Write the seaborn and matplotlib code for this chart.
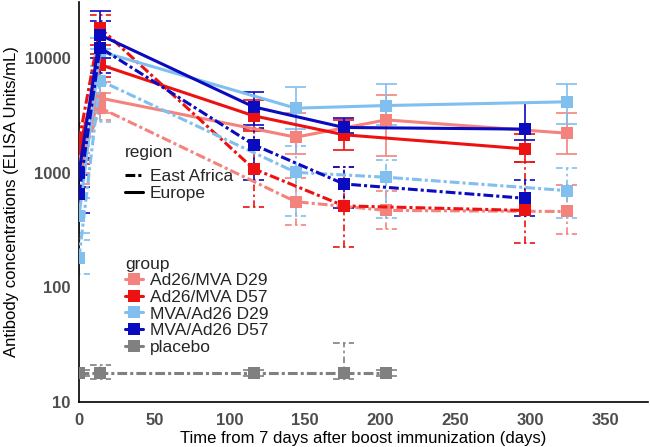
import numpy as np
import pandas as pd
import matplotlib
matplotlib.use("Agg")
import matplotlib.pyplot as plt
import seaborn as sns
from matplotlib.lines import Line2D
from matplotlib.ticker import FixedLocator, NullLocator


# ==============================
# Data (geometric means with 95% CI)
# ==============================

groups = ["Ad26/MVA D29", "Ad26/MVA D57", "MVA/Ad26 D29", "MVA/Ad26 D57", "placebo"]
regions = ["East Africa", "Europe"]
colors = ["#F4837D", "#EE1111", "#80BFEE", "#0A0ABF", "#808080"]

days_d29 = [0, 14, 144, 204, 324]
days_d57 = [0, 14, 116, 176, 296]
days_placebo = [0, 14, 116, 176, 204]

# Ad26/MVA D29
ad_d29_eu = [1300, 4500, 2050, 2900, 2220]
ad_d29_eu_lo = [1000, 3300, 1450, 1400, 1450]
ad_d29_eu_hi = [1700, 6200, 3300, 4800, 3300]
ad_d29_ea = [1100, 3700, 560, 470, 460]
ad_d29_ea_lo = [800, 2900, 350, 325, 290]
ad_d29_ea_hi = [1500, 5000, 900, 700, 780]

# Ad26/MVA D57
ad_d57_eu = [1600, 8800, 3150, 2150, 1620]
ad_d57_eu_lo = [1200, 6800, 2300, 1580, 1250]
ad_d57_eu_hi = [2100, 11000, 4300, 2900, 2200]
ad_d57_ea = [1900, 18400, 1085, 515, 470]
ad_d57_ea_lo = [1300, 13000, 500, 227, 245]
ad_d57_ea_hi = [2700, 24000, 2400, 1130, 1250]

# MVA/Ad26 D29
mva_d29_eu = [420, 11500, 3670, 3870, 4170]
mva_d29_eu_lo = [300, 8500, 2400, 2600, 2650]
mva_d29_eu_hi = [600, 15000, 5600, 6000, 6000]
mva_d29_ea = [180, 6400, 1010, 916, 700]
mva_d29_ea_lo = [130, 2800, 420, 400, 400]
mva_d29_ea_hi = [260, 12000, 1700, 1300, 1110]

# MVA/Ad26 D57
mva_d57_eu = [1000, 16000, 3770, 2490, 2410]
mva_d57_eu_lo = [750, 10000, 2600, 2250, 1950]
mva_d57_eu_hi = [1350, 26000, 5100, 3000, 4100]
mva_d57_ea = [650, 12400, 1760, 800, 600]
mva_d57_ea_lo = [450, 7500, 870, 490, 420]
mva_d57_ea_hi = [950, 21000, 2450, 1130, 860]

# placebo
placebo_ea = [18, 18, 18, 18, 18]
placebo_ea_lo = [17, 16, 17, 16, 17]
placebo_ea_hi = [19, 21, 19, 33, 19]

series = [
    ("Ad26/MVA D29", "Europe", days_d29, ad_d29_eu, ad_d29_eu_lo, ad_d29_eu_hi),
    ("Ad26/MVA D29", "East Africa", days_d29, ad_d29_ea, ad_d29_ea_lo, ad_d29_ea_hi),
    ("Ad26/MVA D57", "Europe", days_d57, ad_d57_eu, ad_d57_eu_lo, ad_d57_eu_hi),
    ("Ad26/MVA D57", "East Africa", days_d57, ad_d57_ea, ad_d57_ea_lo, ad_d57_ea_hi),
    ("MVA/Ad26 D29", "Europe", days_d29, mva_d29_eu, mva_d29_eu_lo, mva_d29_eu_hi),
    ("MVA/Ad26 D29", "East Africa", days_d29, mva_d29_ea, mva_d29_ea_lo, mva_d29_ea_hi),
    ("MVA/Ad26 D57", "Europe", days_d57, mva_d57_eu, mva_d57_eu_lo, mva_d57_eu_hi),
    ("MVA/Ad26 D57", "East Africa", days_d57, mva_d57_ea, mva_d57_ea_lo, mva_d57_ea_hi),
    ("placebo", "East Africa", days_placebo, placebo_ea, placebo_ea_lo, placebo_ea_hi),
]

rows = []
for g, r, d, m, lo, hi in series:
    for i in range(len(d)):
        rows.append({"group": g, "region": r, "day": d[i], "conc": m[i], "lo": lo[i], "hi": hi[i]})
df = pd.DataFrame(rows)


# ==============================
# Plot
# ==============================

sns.set_style("white")
plt.rcParams["font.family"] = ["Liberation Sans", "DejaVu Sans"]

palette = dict(zip(groups, colors))
ea_dash = (3.2, 1.0, 1.0, 1.0)
dashes = {"East Africa": ea_dash, "Europe": ""}

fig = plt.figure(figsize=(6.5, 4.47), dpi=100)
ax = fig.add_axes([0.1215, 0.1007, 0.8755, 0.8948])

# error bars
cap = 7
for g, r, d, m, lo, hi in series:
    c = palette[g]
    ls = (0, (4, 2, 1.5, 2)) if r == "East Africa" else "solid"
    ax.vlines(d, lo, hi, colors=c, linewidth=1.2, linestyles=ls, zorder=2)
    ax.hlines(lo, np.array(d) - cap, np.array(d) + cap, colors=c, linewidth=1.2, linestyles=ls, zorder=2)
    ax.hlines(hi, np.array(d) - cap, np.array(d) + cap, colors=c, linewidth=1.2, linestyles=ls, zorder=2)

sns.lineplot(
    data=df, x="day", y="conc", hue="group", style="region",
    hue_order=groups, style_order=regions, palette=palette,
    dashes=dashes, markers={"East Africa": "s", "Europe": "s"},
    markersize=9, markeredgewidth=0, linewidth=2.2,
    estimator=None, units=None, legend=False, ax=ax, zorder=3,
)

ax.set_yscale("log")
ax.set_ylim(10, 31000)
ax.set_xlim(0, 378)
ax.yaxis.set_major_locator(FixedLocator([10, 100, 1000, 10000]))
ax.yaxis.set_minor_locator(NullLocator())
ax.set_yticklabels(["10", "100", "1000", "10000"])
ax.set_xticks([0, 50, 100, 150, 200, 250, 300, 350])

for s in ["top", "right"]:
    ax.spines[s].set_visible(False)
for s in ["left", "bottom"]:
    ax.spines[s].set_color("black")
    ax.spines[s].set_linewidth(1.2)

ax.tick_params(axis="both", which="major", direction="out", length=4, width=1,
               color="#333333", labelsize=12, labelcolor="#4D4D4D", pad=2)
ax.tick_params(axis="x", pad=4)
for lab in ax.get_xticklabels() + ax.get_yticklabels():
    lab.set_fontweight("bold")

ax.set_xlabel("Time from 7 days after boost immunization (days)", fontsize=12, color="black", labelpad=2)
ax.set_ylabel("Antibody concentrations (ELISA Units/mL)", fontsize=12, color="black", labelpad=4)

# legends
region_handles = [
    Line2D([0], [0], color="black", linewidth=2.2, dashes=ea_dash),
    Line2D([0], [0], color="black", linewidth=2.2),
]
leg1 = ax.legend(region_handles, regions, title="region", loc="upper left",
                 bbox_to_anchor=(0.06, 0.672), frameon=False, fontsize=12.5,
                 title_fontsize=12.5, handlelength=1.0, handletextpad=0.4,
                 labelspacing=0.1, borderpad=0.2)
leg1._legend_box.align = "left"
leg1._legend_box.sep = 6
ax.add_artist(leg1)

group_handles = [Line2D([0], [0], color=c, linewidth=2.2, marker="s", markersize=9,
                        markeredgewidth=0) for c in colors]
leg2 = ax.legend(group_handles, groups, title="group", loc="upper left",
                 bbox_to_anchor=(0.06, 0.393), frameon=False, fontsize=12.5,
                 title_fontsize=12.5, handlelength=1.0, handletextpad=0.4,
                 labelspacing=0.08, borderpad=0.2)
leg2._legend_box.align = "left"

fig.savefig("out.png", dpi=100)
